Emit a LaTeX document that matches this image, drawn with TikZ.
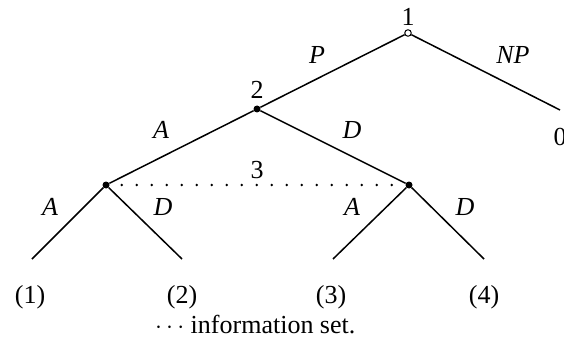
\documentclass[tikz,border=0pt]{standalone}
\usepackage{fontspec}
\setmainfont{Liberation Serif}
\begin{document}
\begin{tikzpicture}[x=1pt,y=-1pt,
  font=\fontsize{26}{30}\selectfont,
  edge/.style={line width=1.5pt},
  fdot/.style={circle,fill=black,inner sep=0pt,minimum size=7pt},
  odot/.style={circle,draw=black,fill=white,line width=1pt,inner sep=0pt,minimum size=6.5pt},
  lbl/.style={inner sep=0pt},
  act/.style={inner sep=0pt,font=\fontsize{26}{30}\selectfont\itshape}]
\useasboundingbox (0,0) rectangle (564,339);
% decision nodes
\node[odot] (r) at (408,33) {};
\node[fdot] (n2) at (257,109) {};
\node[fdot] (n3a) at (106,185) {};
\node[fdot] (n3b) at (409,185) {};
% terminal points
\coordinate (t0) at (560,110);
\coordinate (t1) at (32,259);
\coordinate (t2) at (182,259);
\coordinate (t3) at (333,259);
\coordinate (t4) at (484,259);
% edges
\draw[edge] (r) -- (n2);
\draw[edge] (r) -- (t0);
\draw[edge] (n2) -- (n3a);
\draw[edge] (n2) -- (n3b);
\draw[edge] (n3a) -- (t1);
\draw[edge] (n3a) -- (t2);
\draw[edge] (n3b) -- (t3);
\draw[edge] (n3b) -- (t4);
% information set
\draw[line width=2.8pt,line cap=round,dash pattern=on 0pt off 15pt,
  shorten <=12pt,shorten >=12pt] (n3a) -- (n3b);
% player labels
\node[lbl] (p1) at (408,17) {1};
\node[lbl] (p2) at (257,90) {2};
\node[lbl] (p3) at (257,170) {3};
\node[lbl] (z0) at (560,137) {0};
% action labels
\node[act] (aP) at (317,55) {P};
\node[act] (aNP) at (513,55) {NP};
\node[act] (aA1) at (161,130) {A};
\node[act] (aD1) at (352,130) {D};
\node[act] (aA2) at (50,207) {A};
\node[act] (aD2) at (163,207) {D};
\node[act] (aA3) at (352,207) {A};
\node[act] (aD3) at (465,207) {D};
% outcomes
\node[lbl] (o1) at (30,297) {(1)};
\node[lbl] (o2) at (182,297) {(2)};
\node[lbl] (o3) at (331,297) {(3)};
\node[lbl] (o4) at (484,297) {(4)};
\node[lbl,anchor=base west] (note) at (155,333) {$\cdots$ information set.};
\end{tikzpicture}
\end{document}
